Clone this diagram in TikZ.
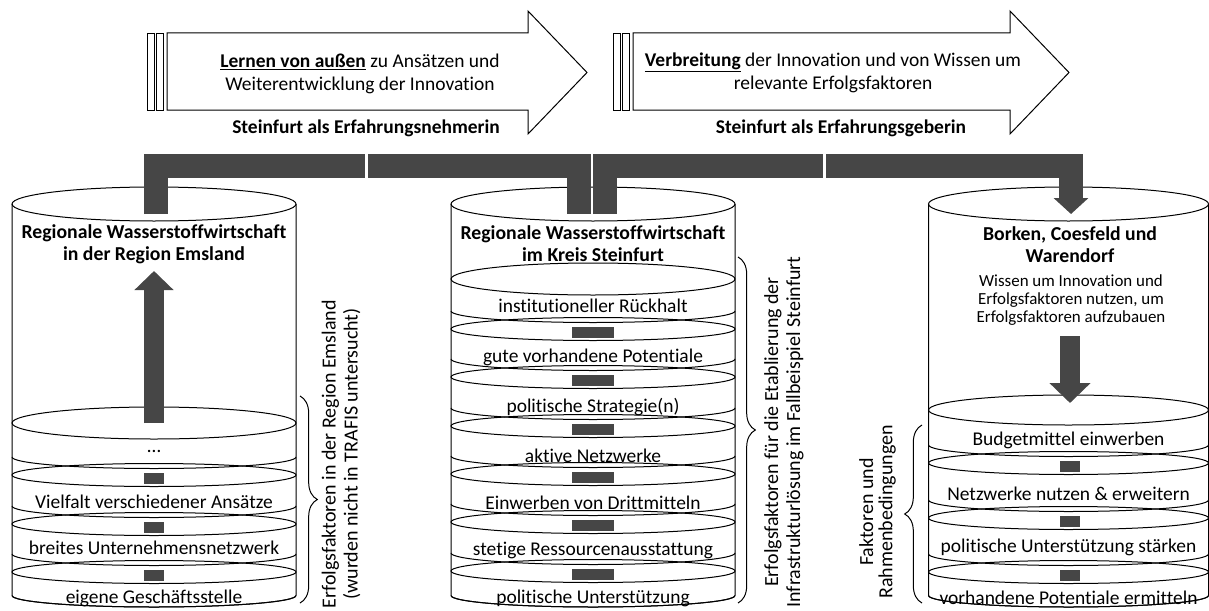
\documentclass[tikz,border=0pt]{standalone}
\usepackage{fontspec}
\setmainfont{Carlito}[Ligatures=NoCommon]
\usepackage{xcolor}
\usepackage{tikz}
\usetikzlibrary{arrows.meta,decorations.pathreplacing}
\definecolor{barcol}{RGB}{70,70,70}

\begin{document}
\begin{tikzpicture}[x=0.75pt, y=0.75pt,
    outl/.style={draw=black, line width=0.75pt},
    blk/.style={fill=barcol},
    band/.style={draw=barcol, line width=18pt},
    lbl/.style={inner sep=0pt, align=center, font=\fontsize{14.6}{17.25}\selectfont},
    ttl/.style={inner sep=0pt, align=center, font=\fontsize{14.8}{16.5}\selectfont\bfseries},
    note/.style={inner sep=0pt, align=center, font=\fontsize{12.7}{13.5}\selectfont},
    side/.style={inner sep=0pt, align=center, rotate=90, font=\fontsize{15}{16.5}\selectfont},
    brc/.style={outl, decorate, decoration={brace, amplitude=13pt}}]

\useasboundingbox (0,0) rectangle (1209,-610);

% Top arrows
\foreach \a/\b in {147/587, 613/1069}
{
    \draw[outl] (\a+20,-33) -- (\b-59,-33) -- (\b-59,-11) -- (\b,-72.5)
        -- (\b-59,-134) -- (\b-59,-110) -- (\a+20,-110) -- cycle;
    \draw[outl, line width=0.6pt] (\a,-33) rectangle (\a+7,-110);
    \draw[outl, line width=0.6pt] (\a+9,-33) rectangle (\a+16,-110);
}
\node[lbl] (Learn) at (360,-74)
    {\underline{\textbf{Lernen von außen}} zu Ansätzen und\\Weiterentwicklung der Innovation};
\node[lbl] (Spread) at (833,-72.5)
    {\underline{\textbf{Verbreitung}} der Innovation und von Wissen um\\relevante Erfolgsfaktoren};
\node[lbl, font=\fontsize{14.6}{17.25}\selectfont\bfseries] (Taker) at (366,-128)
    {Steinfurt als Erfahrungsnehmerin};
\node[lbl, font=\fontsize{14.6}{17.25}\selectfont\bfseries] (Giver) at (841,-128)
    {Steinfurt als Erfahrungsgeberin};

% Cylinder shells
\foreach \x/\r in {154/142, 593/142, 1068.5/140}
{
    \draw[outl] (\x,-204) ellipse [x radius=\r, y radius=17];
    \draw[outl] (\x-\r,-204) -- (\x-\r,-595.5)
        arc[start angle=180, end angle=360, x radius=\r, y radius=11.5] -- (\x+\r,-204);
}

% Left layers
\foreach \c/\ry/\b/\l/\t [count=\i] in {423/16/457/451/{\dots},
    475/11.5/506/502/{Vielfalt verschiedener Ansätze},
    524/11.5/554/548/{breites Unternehmensnetzwerk},
    572/11.5/595.5/598/{eigene Geschäftsstelle}}
{
    \draw[outl] (154,-\c) ellipse [x radius=142, y radius=\ry];
    \draw[outl] (12,-\b) arc[start angle=180, end angle=360, x radius=142, y radius=11.5];
    \coordinate (L-\i) at (154,-\c);
    \node[lbl] (L-txt-\i) at (154,-\l) {\t};
}

% Middle layers
\foreach \c/\ry/\b/\l/\t [count=\i] in {279/16/311/306/{institutioneller Rückhalt},
    329/11.5/359/357/{gute vorhandene Potentiale},
    377/11.5/408/407/{politische Strategie(n)},
    426/11.5/456/456/{aktive Netzwerke},
    474/11.5/504/503/{Einwerben von Drittmitteln},
    522/11.5/553/550/{stetige Ressourcenausstattung},
    571/11.5/595.5/598/{politische Unterstützung}}
{
    \draw[outl] (593,-\c) ellipse [x radius=142, y radius=\ry];
    \draw[outl] (451,-\b) arc[start angle=180, end angle=360, x radius=142, y radius=11.5];
    \coordinate (M-\i) at (593,-\c);
    \node[lbl] (M-txt-\i) at (593,-\l) {\t};
}

% Right layers
\foreach \c/\ry/\b/\l/\t [count=\i] in {410/15/445/440/{Budgetmittel einwerben},
    463/11.5/500/494/{Netzwerke nutzen \& erweitern},
    518/11.5/554/547/{politische Unterstützung stärken},
    572/11.5/595.5/598/{vorhandene Potentiale ermitteln}}
{
    \draw[outl] (1068.5,-\c) ellipse [x radius=140, y radius=\ry];
    \draw[outl] (928.5,-\b) arc[start angle=180, end angle=360, x radius=140, y radius=11.5];
    \coordinate (R-\i) at (1070,-\c);
    \node[lbl] (R-txt-\i) at (1068.5,-\l) {\t};
}

% Links between layers
\foreach \i in {2,3,4}
{
    \fill[blk] ([shift={(-10,2)}]L-\i) rectangle ([shift={(10,-9)}]L-\i);
    \fill[blk] ([shift={(-10,2)}]R-\i) rectangle ([shift={(10,-9)}]R-\i);
}
\foreach \i in {2,...,7}
{
    \fill[blk] ([shift={(-21,2)}]M-\i) rectangle ([shift={(21,-9)}]M-\i);
}

% Titles
\node[ttl] (L-title) at (154,-244) {Regionale Wasserstoffwirtschaft\\in der Region Emsland};
\node[ttl] (M-title) at (593,-243.5) {Regionale Wasserstoffwirtschaft\\im Kreis Steinfurt};
\node[ttl] (R-title) at (1070,-244.5) {Borken, Coesfeld und\\Warendorf};
\node[note] (R-note) at (1071,-300)
    {Wissen um Innovation und\\Erfolgsfaktoren nutzen, um\\Erfolgsfaktoren aufzubauen};

% Arrows inside the cylinders
\coordinate (L-up) at (154,-271);
\coordinate (R-down) at (1070,-336);
\coordinate (R-in) at (1070,-403);
\draw[band, line width=15pt, -{Triangle[width=28.5pt, length=14.25pt]}] (L-1) -- (L-up);
\draw[band, line width=15pt, -{Triangle[width=30pt, length=15pt]}] (R-down) -- (R-in);

% Band between the cylinders
\coordinate (L-top) at (155.5,-214);
\coordinate (G1-a) at (365,-166);
\coordinate (G1-b) at (368,-166);
\coordinate (M-in1) at (578.5,-214);
\coordinate (M-in2) at (604.5,-214);
\coordinate (G2-a) at (823,-166);
\coordinate (G2-b) at (826,-166);
\coordinate (R-top) at (1071,-214);
\draw[band] (L-top) |- (G1-a);
\draw[band] (G1-b) -| (M-in1);
\draw[band] (M-in2) |- (G2-a);
\draw[band, -{Triangle[width=25.5pt, length=12pt]}] (G2-b) -| (R-top);

% Braces
\draw[brc] (300,-396) -- (300,-603);
\draw[brc] (738,-257) -- (738,-603);
\draw[brc] (922,-603) -- (922,-425);
\node[side] (L-side) at (341,-454)
    {Erfolgsfaktoren in der Region Emsland\\(wurden nicht in TRAFIS untersucht)};
\node[side] (M-side) at (784,-432)
    {Erfolgsfaktoren für die Etablierung der\\Infrastrukturlösung im Fallbeispiel Steinfurt};
\node[side, font=\fontsize{15}{14.5}\selectfont] (R-side) at (877.5,-512)
    {Faktoren und\\Rahmenbedingungen};

\end{tikzpicture}
\end{document}
